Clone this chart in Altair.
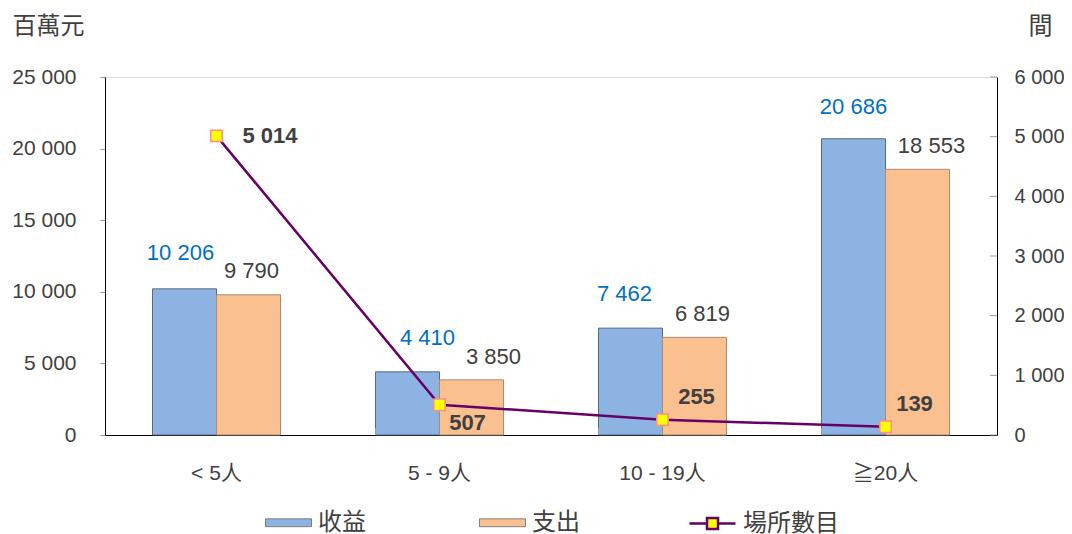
import altair as alt
import pandas as pd

categories = ['< 5人', '5 - 9人', '10 - 19人', '≧20人']
revenue = [10206, 4410, 7462, 20686]
expense = [9790, 3850, 6819, 18553]
establishments = [5014, 507, 255, 139]
left_ticks = [0, 5000, 10000, 15000, 20000, 25000]
right_ticks = [0, 1000, 2000, 3000, 4000, 5000, 6000]
series_names = ['收益', '支出', '場所數目']
series_colors = ['#8DB3E2', '#FAC090', '#660066']

bars_df = pd.DataFrame({
    'cat': categories * 2,
    'series': [series_names[0]] * 4 + [series_names[1]] * 4,
    'value': revenue + expense,
})
line_df = pd.DataFrame({'cat': categories, 'series': series_names[2], 'count': establishments})
xtick_df = pd.DataFrame({'cat': categories[1:]})
rtick_df = pd.DataFrame({'t': right_ticks})

NUM = 'Liberation Sans, Noto Sans CJK TC, sans-serif'
CJK = 'Noto Sans CJK TC, sans-serif'
GREY = '#404040'
FMT = ',.0f'

bar_legend = alt.Legend(
    title=None, orient='none', legendX=160, legendY=422, direction='horizontal',
    symbolType='M-1,-0.17H1V0.17H-1Z', symbolSize=2116, symbolStrokeColor='#7f7f7f',
    symbolStrokeWidth=1, symbolOpacity=1, labelFont=CJK, labelFontSize=24, labelColor=GREY,
    labelOffset=6, columnPadding=111, labelLimit=300,
)
line_legend = alt.Legend(
    title=None, orient='none', legendX=583, legendY=422, direction='horizontal',
    symbolType='M-1,0H-0.24M0.24,0H1M-0.24,-0.24H0.24V0.24H-0.24Z', symbolSize=2116,
    symbolFillColor='#FFFF00', symbolStrokeWidth=2.5, symbolOpacity=1,
    labelFont=CJK, labelFontSize=24, labelColor=GREY, labelOffset=6, labelLimit=300,
)

x_axis = alt.Axis(title=None, labelAngle=0, ticks=False, tickSize=0, domainColor='#000000',
                  domainWidth=1, labelFont=NUM, labelFontSize=21, labelColor=GREY,
                  labelPadding=38, labelBaseline='middle')
x_scale = alt.Scale(domain=categories, paddingInner=0.426, paddingOuter=0.213)
X = alt.X('cat:N', sort=categories, scale=x_scale, axis=x_axis)
XO = alt.XOffset('series:N', scale=alt.Scale(domain=series_names[:2], paddingInner=0, paddingOuter=0))

yl_axis = alt.Axis(values=left_ticks, format=FMT, title='百萬元', titleAngle=0, titleX=-93, titleY=-51,
                   titleAlign='left', titleBaseline='middle', titleFont=CJK, titleFontSize=24,
                   titleFontWeight='normal', titleColor=GREY, labelFont=NUM, labelFontSize=21,
                   labelColor=GREY, labelPadding=24, tickSize=5, tickColor='#999999',
                   domainColor='#000000', grid=False)
YL = alt.Y('value:Q', scale=alt.Scale(domain=[0, 25000], nice=False), axis=yl_axis)

yr_axis = alt.Axis(orient='right', values=right_ticks, format=FMT, title='間', titleAngle=0,
                   titleX=31, titleY=-51, titleAlign='left', titleBaseline='middle', titleFont=CJK,
                   titleFontSize=24, titleFontWeight='normal', titleColor=GREY, labelFont=NUM,
                   labelFontSize=20, labelColor=GREY, labelPadding=17, ticks=False, tickSize=0,
                   domainColor='#000000', grid=False)
yr_scale = alt.Scale(domain=[0, 6000], nice=False)

bars = alt.Chart(bars_df).mark_bar(strokeWidth=1).encode(
    x=X, xOffset=XO, y=YL,
    color=alt.Color('series:N', scale=alt.Scale(domain=series_names[:2], range=series_colors[:2]),
                    legend=bar_legend),
    stroke=alt.condition("datum.series == '%s'" % series_names[0], alt.value('#56697f'), alt.value('#a88b73')),
)

# label offsets (style only): (dx, dy) per category
rev_offsets = [(-4, -29), (20, -27), (-6, -27), (0, -25)]
exp_offsets = [(3, -17), (22, -16), (8, -16), (14, -16)]
bar_labels = []
for s, color, offs in [(series_names[0], '#0070C0', rev_offsets), (series_names[1], GREY, exp_offsets)]:
    for c, (ddx, ddy) in zip(categories, offs):
        bar_labels.append(
            alt.Chart(bars_df).transform_filter(
                (alt.datum.series == s) & (alt.datum.cat == c)
            ).mark_text(color=color, font=NUM, fontSize=22, baseline='alphabetic', dx=ddx, dy=ddy)
            .encode(x=X, xOffset=XO, y=YL, text=alt.Text('value:Q', format=FMT))
        )

xticks = alt.Chart(xtick_df).mark_rule(color='#999999', strokeWidth=1).encode(
    x=alt.X('cat:N', sort=categories, scale=x_scale, axis=x_axis, bandPosition=0),
    y=alt.value(351), y2=alt.value(358),
)
left = alt.layer(bars, *bar_labels, xticks)

YR = alt.Y('count:Q', scale=yr_scale, axis=yr_axis)
line = alt.Chart(line_df).mark_line(strokeWidth=2.5).encode(
    x=X, y=YR,
    stroke=alt.Stroke('series:N', scale=alt.Scale(domain=series_names[2:], range=series_colors[2:]),
                      legend=line_legend))
pts = alt.Chart(line_df).mark_square(size=130, fill='#FFFF00', stroke='#FF8C8C', strokeWidth=1.5,
                                     opacity=1).encode(x=X, y=YR)
label_offsets = [(26, 0), (28, 18), (34, -23), (29, -23)]
lbls = []
for c, (ddx, ddy) in zip(categories, label_offsets):
    lbls.append(alt.Chart(line_df).transform_filter(alt.datum.cat == c).mark_text(
        font=NUM, fontSize=22, fontWeight='bold', color=GREY, align='left' if ddy == 0 else 'center',
        baseline='middle', dx=ddx, dy=ddy
    ).encode(x=X, y=YR, text=alt.Text('count:Q', format=FMT)))
rticks = alt.Chart(rtick_df).mark_rule(color='#999999', strokeWidth=1).encode(
    y=alt.Y('t:Q', scale=yr_scale, axis=yr_axis), x=alt.value(885), x2=alt.value(892))
right = alt.layer(line, pts, *lbls, rticks)

chart = alt.layer(left, right).resolve_scale(y='independent').properties(
    width=892, height=358,
    padding={'left': 97, 'top': 69, 'right': 67, 'bottom': 99},
    autosize=alt.AutoSizeParams(type='none'),
).configure_view(stroke=None).configure(
    locale={'number': {'decimal': '.', 'thousands': ' ', 'grouping': [3], 'currency': ['', '']}}
)

chart.save('out.html', embed_options={'renderer': 'svg', 'actions': False})
